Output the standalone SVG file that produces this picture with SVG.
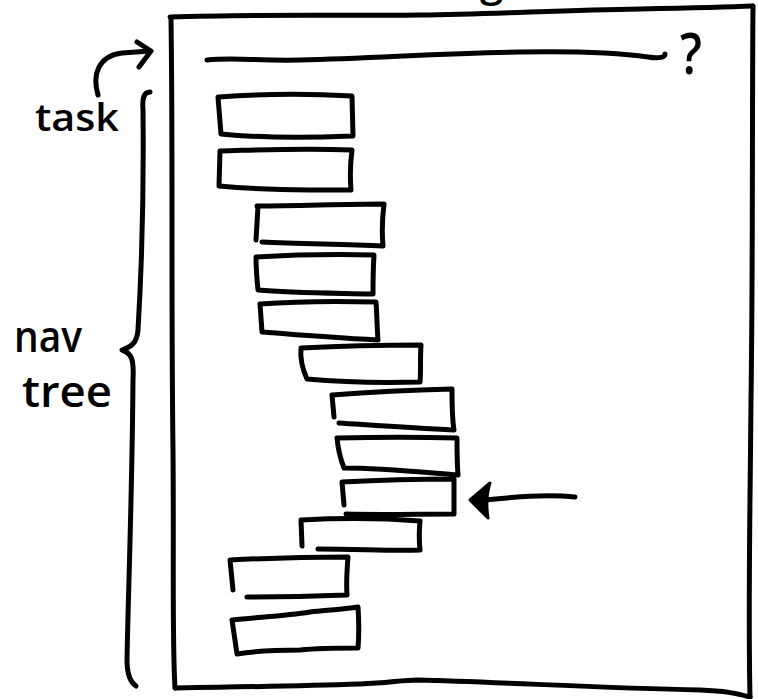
<svg xmlns="http://www.w3.org/2000/svg" width="758" height="699" viewBox="0 0 758 699">
  <style>
    .ink { fill: none; stroke: #000; stroke-width: 5; stroke-linecap: round; stroke-linejoin: round; }
    .box { fill: none; stroke: #000; stroke-width: 5; stroke-linecap: round; stroke-linejoin: round; }
    .hand { font-family: "Open Sans", "Noto Sans", sans-serif; font-weight: 600; fill: #000; }
  </style>
  <rect width="758" height="699" fill="#fff"/>

  <!-- title fragment at the top edge -->
  <text class="hand" x="480" y="-4" font-size="42">g</text>

  <!-- window frame -->
  <g id="frame">
    <path class="ink" d="M170,17 C 260,14 330,16 420,15 C 500,14 560,10 640,9 C 690,8 730,7 753,6"/>
    <path class="ink" d="M753,6 C 752,120 753,260 751,400 C 750,520 748,610 750,697"/>
    <path class="ink" d="M175,688 C 240,687 300,686 360,684 C 390,683 400,680 418,680 C 500,682 600,688 700,690 C 725,691 735,693 750,697"/>
    <path class="ink" d="M171,19 C 173,150 171,300 173,450 C 174,560 172,640 175,688"/>
  </g>

  <!-- task field -->
  <g id="task-field">
    <path class="ink" d="M207,60 C 235,57 255,61 300,60 C 380,58 440,53 520,52 C 580,51 620,53 648,57 C 660,59 665,57 665,54"/>
    <text class="hand" x="680" y="74" font-size="58" font-weight="700" textLength="22" lengthAdjust="spacingAndGlyphs">?</text>
  </g>

  <!-- nav tree rows -->
  <g id="row1"><path class="box" d="M219,97 C 260,94 300,93 352,96 L 353,136 C 300,138 260,138 221,134 L 218,97"/></g>
  <g id="row2"><path class="box" d="M220,151 C 260,150 300,148 352,150 C 350,165 350,178 351,190 C 300,190 260,190 219,186 L 220,151"/></g>
  <g id="row3"><path class="box" d="M257,206 C 300,206 340,204 384,204 C 382,220 382,235 383,246 C 340,244 300,244 262,242 M258,206 L 256,240"/></g>
  <g id="row4"><path class="box" d="M256,257 C 290,255 330,254 374,255 C 373,270 373,282 373,294 C 330,293 290,293 258,290 C 257,280 256,268 256,257"/></g>
  <g id="row5"><path class="box" d="M260,304 C 300,301 340,301 376,302 C 377,315 377,328 378,340 C 340,338 300,335 262,332 L 260,304"/></g>
  <g id="row6"><path class="box" d="M301,348 C 340,346 380,345 421,345 C 420,360 421,372 420,382 C 380,383 340,382 307,379 C 302,368 300,358 301,348"/></g>
  <g id="row7"><path class="box" d="M332,395 C 370,392 410,390 452,389 C 452,405 452,418 454,430 C 410,428 370,425 339,423 M332,395 L 334,417"/></g>
  <g id="row8"><path class="box" d="M337,438 C 380,437 420,437 457,438 C 457,452 457,463 458,475 C 420,472 380,468 344,468 C 340,458 338,448 337,438"/></g>
  <g id="row9"><path class="box" d="M342,482 C 380,480 420,479 454,479 L 454,514 C 420,514 380,515 346,514 M342,482 L 344,505"/></g>
  <g id="row10"><path class="box" d="M301,520 C 340,518 380,518 420,521 C 419,532 419,541 420,550 C 390,551 360,549 318,549 M301,520 L 302,546"/></g>
  <g id="row11"><path class="box" d="M230,560 C 270,558 310,557 348,557 C 347,570 346,582 347,595 C 320,596 280,597 247,597 M230,560 L 233,590"/></g>
  <g id="row12"><path class="box" d="M232,620 C 260,617 285,616 310,612 C 330,610 345,609 358,607 C 359,622 359,636 358,648 C 340,648 320,648 300,650 C 280,650 255,651 237,654 L 232,620"/></g>

  <!-- labels -->
  <g id="label-task">
    <text class="hand" x="35" y="131" font-size="38" textLength="84" lengthAdjust="spacingAndGlyphs">task</text>
  </g>
  <g id="label-nav-tree">
    <text class="hand" x="14" y="352" font-size="44" textLength="68" lengthAdjust="spacingAndGlyphs">nav</text>
    <text class="hand" x="22" y="407" font-size="44" textLength="90" lengthAdjust="spacingAndGlyphs">tree</text>
  </g>

  <!-- connectors -->
  <g id="connectors">
    <path class="ink" d="M98,95 C 92,75 98,56 122,53 L 150,51"/>
    <path class="ink" d="M137,42 L 151,51 L 139,67"/>
    <path class="ink" d="M150,92 C 144,92 142,98 143,110 C 144,200 141,280 138,330 C 137,343 131,347 122,350 C 132,353 134,360 133,380 C 132,500 128,600 127,660 C 127,675 130,682 136,686"/>
    <path class="ink" d="M575,497 C 545,494 515,497 485,500"/>
    <path fill="#000" stroke="#000" stroke-width="3" stroke-linejoin="round" d="M470,500 L 490,483 C 486,495 486,505 488,518 Z"/>
  </g>
</svg>
